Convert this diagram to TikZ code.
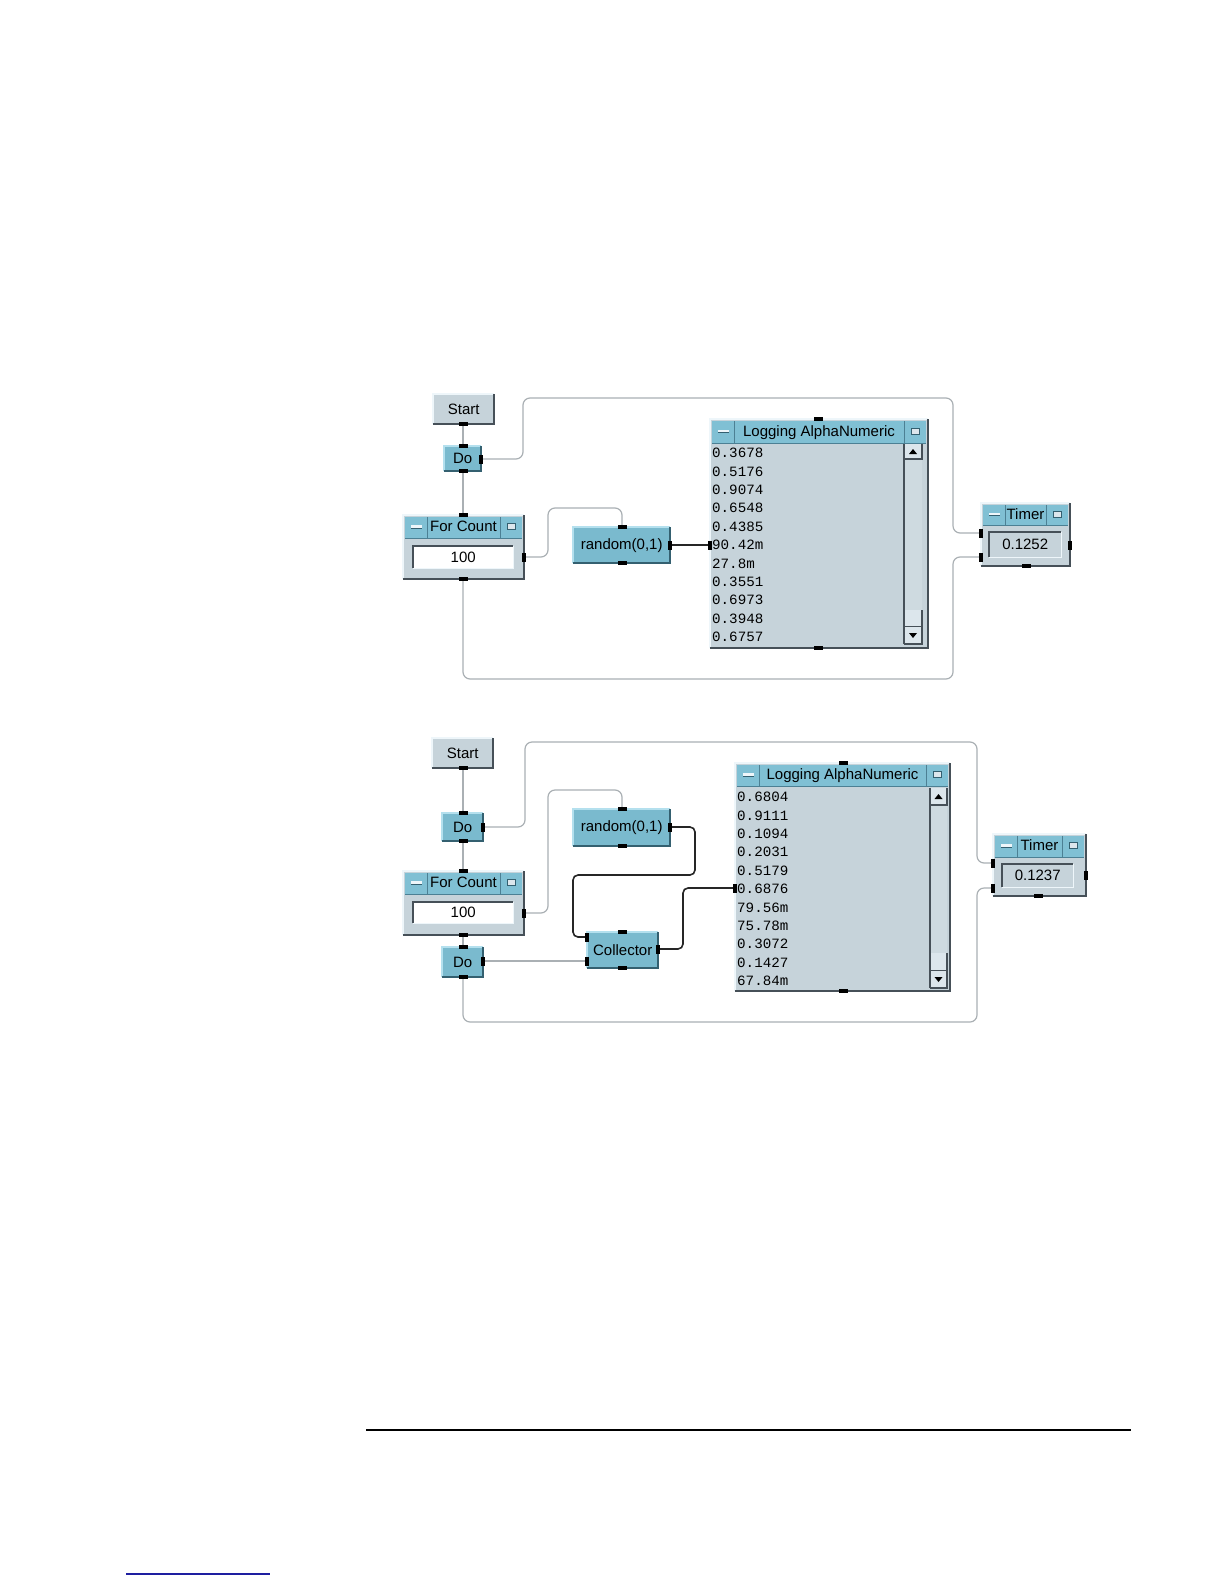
\documentclass[tikz,border=0pt]{standalone}
\usepackage{fontspec}
\setmainfont{Liberation Sans}
\newfontfamily\monof{Liberation Mono}
\definecolor{vblue}{RGB}{122,186,206}
\definecolor{tblue}{RGB}{128,192,212}
\definecolor{vgray}{RGB}{198,211,218}
\definecolor{trackc}{RGB}{206,218,224}
\definecolor{btnc}{RGB}{220,230,236}
\definecolor{hilite}{RGB}{238,246,250}
\definecolor{vdark}{RGB}{70,80,88}
\definecolor{bhilite}{RGB}{180,224,238}
\definecolor{bdark}{RGB}{52,96,112}
\definecolor{wiregray}{RGB}{170,176,180}
\definecolor{sepc}{RGB}{76,128,148}
\definecolor{footblue}{RGB}{30,30,160}
\pgfdeclarelayer{background}
\pgfsetlayers{background,main}
\tikzset{
  lab/.style={font=\fontsize{15}{18}\selectfont, text=black, inner sep=0pt},
  num/.style={font=\monof\fontsize{14.2}{18}\selectfont, text=black, inner sep=0pt, anchor=base west},
  bluebox/.style={rectangle, fill=vblue, inner sep=0pt, anchor=north west, font=\fontsize{15}{18}\selectfont},
  graybox/.style={rectangle, fill=vgray, inner sep=0pt, anchor=north west, font=\fontsize{15}{18}\selectfont},
  fieldbox/.style={rectangle, inner sep=0pt, anchor=north west, font=\fontsize{15}{18}\selectfont},
  wire/.style={draw=wiregray, line width=1.2pt, rounded corners=7pt},
  dwire/.style={draw=black!85, line width=1.6pt, rounded corners=5pt},
}
% bevel around a node
\newcommand\bevel[3]{%
  \draw[#2, line width=1.5pt] (#1.south west) -- (#1.north west) -- (#1.north east);
  \draw[#3, line width=2pt] (#1.south west) -- (#1.south east) -- (#1.north east);}
% block: name style x1 y1 x2 y2 text
\newcommand\blk[7]{%
  \node[#2, minimum width=#5pt-#3pt, minimum height=#6pt-#4pt] (#1) at (#3,#4) {#7};}
% ports
\newcommand\hp[3]{\coordinate (#1) at (#2,#3); \fill[black] (#2-4.5,#3-2) rectangle (#2+4.5,#3+2);}
\newcommand\vp[3]{\coordinate (#1) at (#2,#3); \fill[black] (#2-2,#3-4.5) rectangle (#2+2,#3+4.5);}
% panel: name x1 y1 x2 ytitlebottom y2 title
\newcommand\panel[7]{%
  \node[graybox, minimum width=#4pt-#2pt, minimum height=#6pt-#3pt] (#1) at (#2,#3) {};
  \fill[tblue] (#2+2,#3+2) rectangle (#4-2,#5);
  \draw[sepc, line width=1pt] (#2+24,#3+2) -- (#2+24,#5);
  \draw[sepc, line width=1pt] (#4-24,#3+2) -- (#4-24,#5);
  \draw[sepc, line width=.8pt] (#2+2,#5) -- (#4-2,#5);
  \fill[hilite] (#2+8,{(#3+#5)/2-1.5}) rectangle (#2+19,{(#3+#5)/2+1});
  \fill[bdark] (#2+8,{(#3+#5)/2+1}) rectangle (#2+19,{(#3+#5)/2+2});
  \filldraw[fill=btnc, draw=bdark, line width=.6pt] (#4-17,{(#3+#5)/2-3}) rectangle (#4-9,{(#3+#5)/2+3});
  \node[lab, anchor=base] (#1-title) at ({(#2+#4)/2},{(#3+#5)/2+5.4}) {#7};
  \bevel{#1}{hilite}{vdark}}
% field: name x1 y1 x2 y2 fill text
\newcommand\field[7]{%
  \node[fieldbox, fill=#6, minimum width=#4pt-#2pt, minimum height=#5pt-#3pt] (#1) at (#2,#3) {#7};
  \draw[vdark, line width=1.5pt] (#1.south west) -- (#1.north west) -- (#1.north east);
  \draw[hilite, line width=1.5pt] (#1.south west) -- (#1.south east) -- (#1.north east);}
% scrollbar: x1 x2 ytop yupbot ythumbtop ydowntop ybot
\newcommand\scroll[7]{%
  \fill[trackc] (#1,#3) rectangle (#2,#7);
  \fill[btnc] (#1,#3) rectangle (#2,#4);
  \draw[vdark, line width=1.2pt] (#1,#4) -- (#2,#4) -- (#2,#3);
  \fill[black] ({(#1+#2)/2-4},{(#3+#4)/2+2.5}) -- ({(#1+#2)/2+4},{(#3+#4)/2+2.5}) -- ({(#1+#2)/2},{(#3+#4)/2-2.5}) -- cycle;
  \fill[btnc] (#1,#5) rectangle (#2,#6);
  \draw[vdark, line width=1.2pt] (#1,#6) -- (#2,#6) -- (#2,#5);
  \fill[btnc] (#1,#6) rectangle (#2,#7);
  \draw[vdark, line width=1.2pt] (#1,#7) -- (#2,#7) -- (#2,#6);
  \fill[black] ({(#1+#2)/2-4},{(#6+#7)/2-2.5}) -- ({(#1+#2)/2+4},{(#6+#7)/2-2.5}) -- ({(#1+#2)/2},{(#6+#7)/2+2.5}) -- cycle;
  \draw[vdark, line width=1.2pt] (#1,#3) -- (#1,#7);}
\begin{document}
\begin{tikzpicture}[x=1pt, y=-1pt]
\useasboundingbox (0,0) rectangle (1224,1584);
\begin{pgfonlayer}{background}
\fill[white] (0,0) rectangle (1224,1584);
\end{pgfonlayer}

% ================= Diagram 1 =================
\blk{start1}{graybox}{433}{394}{494}{424}{Start}
\bevel{start1}{hilite}{vdark}
\blk{do1}{bluebox}{444}{446}{481}{471}{Do}
\bevel{do1}{bhilite}{bdark}
\blk{rnd1}{bluebox}{573}{527}{670}{563}{random(0,1)}
\bevel{rnd1}{bhilite}{bdark}
\panel{fc1}{403}{515}{524}{538}{579}{For Count}
\field{fc1f}{413}{546}{513}{568}{white}{100}
\panel{log1}{710}{419}{928}{443}{648}{Logging AlphaNumeric}
\scroll{904}{922}{444}{459}{610}{627}{644}
\foreach \v [count=\i from 0] in {0.3678,0.5176,0.9074,0.6548,0.4385,90.42m,27.8m,0.3551,0.6973,0.3948,0.6757}
  \node[num] (log1-n\i) at (712,{453+18.4*\i+4.7}) {\v};
\panel{tim1}{981}{503}{1070}{525}{566}{Timer}
\field{tim1f}{989}{532}{1061}{557}{vgray}{0.1252}

\hp{st1-b}{463}{424}
\hp{do1-t}{463}{446} \hp{do1-b}{463}{471} \vp{do1-r}{481}{459}
\hp{fc1-t}{463}{515} \hp{fc1-b}{463}{579} \vp{fc1-r}{524}{557}
\hp{rnd1-t}{622}{527} \hp{rnd1-b}{622}{563} \vp{rnd1-r}{670}{545}
\hp{log1-t}{818}{419} \hp{log1-b}{818}{648} \vp{log1-l}{710}{545}
\vp{tim1-l1}{981}{533} \vp{tim1-l2}{981}{557} \vp{tim1-r}{1070}{545} \hp{tim1-b}{1026}{566}

\begin{pgfonlayer}{background}
\draw[wire] (st1-b) -- (do1-t);
\draw[wire] (do1-b) -- (fc1-t);
\draw[wire] (do1-r) -- (523,459) -- (523,398) -- (953,398) -- (953,533) -- (tim1-l1);
\draw[wire] (fc1-r) -- (548,557) -- (548,508) -- (622,508) -- (rnd1-t);
\draw[dwire] (rnd1-r) -- (log1-l);
\draw[wire] (fc1-b) -- (463,679) -- (953,679) -- (953,557) -- (tim1-l2);
\end{pgfonlayer}

% ================= Diagram 2 =================
\blk{start2}{graybox}{432}{738}{493}{768}{Start}
\bevel{start2}{hilite}{vdark}
\blk{do2a}{bluebox}{442}{813}{483}{841}{Do}
\bevel{do2a}{bhilite}{bdark}
\panel{fc2}{403}{871}{524}{894}{935}{For Count}
\field{fc2f}{413}{902}{513}{923}{white}{100}
\blk{rnd2}{bluebox}{573}{809}{670}{846}{random(0,1)}
\bevel{rnd2}{bhilite}{bdark}
\blk{col2}{bluebox}{587}{932}{658}{968}{Collector}
\bevel{col2}{bhilite}{bdark}
\blk{do2b}{bluebox}{442}{947}{483}{977}{Do}
\bevel{do2b}{bhilite}{bdark}
\panel{log2}{735}{763}{950}{786}{991}{Logging AlphaNumeric}
\scroll{930}{947}{788}{805}{953}{971}{988}
\foreach \v [count=\i from 0] in {0.6804,0.9111,0.1094,0.2031,0.5179,0.6876,79.56m,75.78m,0.3072,0.1427,67.84m}
  \node[num] (log2-n\i) at (737,{797+18.4*\i+4.7}) {\v};
\panel{tim2}{993}{834}{1086}{857}{896}{Timer}
\field{tim2f}{1002}{864}{1073}{887}{vgray}{0.1237}

\hp{st2-b}{463}{768}
\hp{do2a-t}{463}{813} \hp{do2a-b}{463}{841} \vp{do2a-r}{483}{827}
\hp{fc2-t}{463}{871} \hp{fc2-b}{463}{935} \vp{fc2-r}{524}{913}
\hp{rnd2-t}{622}{809} \hp{rnd2-b}{622}{846} \vp{rnd2-r}{670}{827}
\hp{col2-t}{622}{932} \hp{col2-b}{622}{968} \vp{col2-l1}{587}{937} \vp{col2-l2}{587}{961} \vp{col2-r}{658}{949}
\hp{do2b-t}{463}{947} \hp{do2b-b}{463}{977} \vp{do2b-r}{483}{961}
\hp{log2-t}{843}{763} \hp{log2-b}{843}{991} \vp{log2-l}{735}{888}
\vp{tim2-l1}{993}{863} \vp{tim2-l2}{993}{888} \vp{tim2-r}{1086}{875} \hp{tim2-b}{1038}{896}

\begin{pgfonlayer}{background}
\draw[wire] (st2-b) -- (do2a-t);
\draw[wire] (do2a-b) -- (fc2-t);
\draw[wire] (fc2-b) -- (do2b-t);
\draw[wire] (do2a-r) -- (525,827) -- (525,742) -- (977,742) -- (977,863) -- (tim2-l1);
\draw[wire] (fc2-r) -- (548,913) -- (548,790) -- (622,790) -- (rnd2-t);
\draw[dwire] (rnd2-r) -- (695,827) -- (695,875) -- (573,875) -- (573,937) -- (col2-l1);
\draw[dwire] (col2-r) -- (683,949) -- (683,888) -- (log2-l);
\draw[wire] (do2b-r) -- (col2-l2);
\draw[wire] (do2b-b) -- (463,1022) -- (977,1022) -- (977,888) -- (tim2-l2);
\end{pgfonlayer}

% ================= Footer rules =================
\draw[black, line width=2.5pt] (366,1430) -- (1131,1430);
\draw[footblue, line width=1.5pt] (126,1574) -- (270,1574);
\end{tikzpicture}
\end{document}
